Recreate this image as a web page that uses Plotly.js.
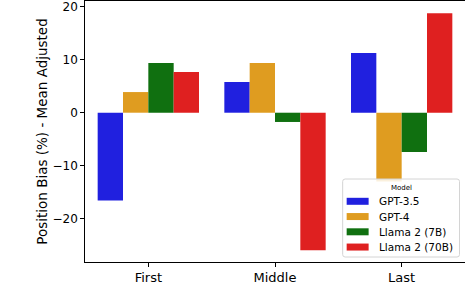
<!DOCTYPE html>
<html>
<head>
<meta charset="utf-8">
<script src="https://cdn.plot.ly/plotly-3.0.1.min.js"></script>
<style>
html, body { margin: 0; padding: 0; background: #fff; }
#chart { width: 466px; height: 300px; }
</style>
</head>
<body>
<div id="chart"></div>
<script>
const categories = ["First", "Middle", "Last"];
const models = ["GPT-3.5", "GPT-4", "Llama 2 (7B)", "Llama 2 (70B)"];
const gpt35 = [-16.6, 5.8, 11.3];
const gpt4 = [3.9, 9.4, -13.0];
const llama7b = [9.4, -1.75, -7.4];
const llama70b = [7.7, -26.0, 18.8];
const colors = ["#2020DF", "#DF9C20", "#107010", "#DF2020"];
const yTicks = [-20, -10, 0, 10, 20];
const legendTitle = "Model";

const seriesValues = [gpt35, gpt4, llama7b, llama70b];
const traces = seriesValues.map((vals, i) => ({
  type: "bar",
  name: models[i],
  x: categories,
  y: vals,
  marker: { color: colors[i], line: { width: 0 } },
  showlegend: false
}));

const fontFam = "DejaVu Sans, sans-serif";
const W = 466, H = 300;
const M = { l: 85, r: 0.5, t: 1, b: 38 };
const plotW = W - M.l - M.r, plotH = H - M.t - M.b;
const px = x => (x - M.l) / plotW;          // pixel -> paper x
const py = y => (H - M.b - y) / plotH;      // pixel -> paper y

// Legend box (matplotlib-style) built from the models / colors arrays
const box = { x0: 343, x1: 460, y0: 179, y1: 257, r: 2.5 };
const rx = box.r / plotW, ry = box.r / plotH;
const bx0 = px(box.x0), bx1 = px(box.x1), by0 = py(box.y1), by1 = py(box.y0);
const roundPath =
  `M ${bx0 + rx},${by0} L ${bx1 - rx},${by0} Q ${bx1},${by0} ${bx1},${by0 + ry} ` +
  `L ${bx1},${by1 - ry} Q ${bx1},${by1} ${bx1 - rx},${by1} ` +
  `L ${bx0 + rx},${by1} Q ${bx0},${by1} ${bx0},${by1 - ry} ` +
  `L ${bx0},${by0 + ry} Q ${bx0},${by0} ${bx0 + rx},${by0} Z`;

const shapes = [{
  type: "path", xref: "paper", yref: "paper", path: roundPath,
  fillcolor: "rgba(255,255,255,0.85)", line: { color: "#d4d4d4", width: 1 }, layer: "above"
}];
const annotations = [{
  xref: "paper", yref: "paper", x: px((box.x0 + box.x1) / 2), y: py(187.7),
  text: legendTitle, showarrow: false, xanchor: "center", yanchor: "middle",
  font: { family: fontFam, size: 7, color: "#000" }
}];
const rowY0 = 201.3, rowStep = 15.25;
models.forEach((m, i) => {
  const cy = rowY0 + i * rowStep;
  shapes.push({
    type: "rect", xref: "paper", yref: "paper",
    x0: px(347), x1: px(369), y0: py(cy + 3.5), y1: py(cy - 3.5),
    fillcolor: colors[i], line: { width: 0 }, layer: "above"
  });
  annotations.push({
    xref: "paper", yref: "paper", x: px(377.5), y: py(cy),
    text: m, showarrow: false, xanchor: "left", yanchor: "middle",
    font: { family: fontFam, size: 10.5, color: "#000" }
  });
});

const layout = {
  width: W,
  height: H,
  margin: M,
  paper_bgcolor: "#fff",
  plot_bgcolor: "#fff",
  barmode: "group",
  bargap: 0.2,
  bargroupgap: 0,
  font: { family: fontFam, size: 12, color: "#000" },
  showlegend: false,
  xaxis: {
    type: "category",
    range: [-0.5, 2.5],
    showgrid: false,
    zeroline: false,
    showline: true,
    linecolor: "#000",
    linewidth: 1.2,
    mirror: true,
    ticks: "outside",
    ticklen: 3.5,
    tickwidth: 1,
    tickcolor: "#000",
    tickfont: { family: fontFam, size: 13, color: "#000" }
  },
  yaxis: {
    range: [-28.2, 21.1],
    tickvals: yTicks,
    ticktext: yTicks.map(v => v < 0 ? "\u2212" + Math.abs(v) : String(v)),
    showgrid: false,
    zeroline: false,
    showline: true,
    linecolor: "#000",
    linewidth: 1.2,
    ticks: "outside",
    ticklen: 3.5,
    tickwidth: 1,
    tickcolor: "#000",
    tickfont: { family: fontFam, size: 12, color: "#000" },
    title: { text: "Position Bias (%) - Mean Adjusted", font: { family: fontFam, size: 13.5, color: "#000" }, standoff: 1 }
  },
  shapes: shapes,
  annotations: annotations
};

Plotly.newPlot("chart", traces, layout, { displayModeBar: false, staticPlot: true });
</script>
</body>
</html>
